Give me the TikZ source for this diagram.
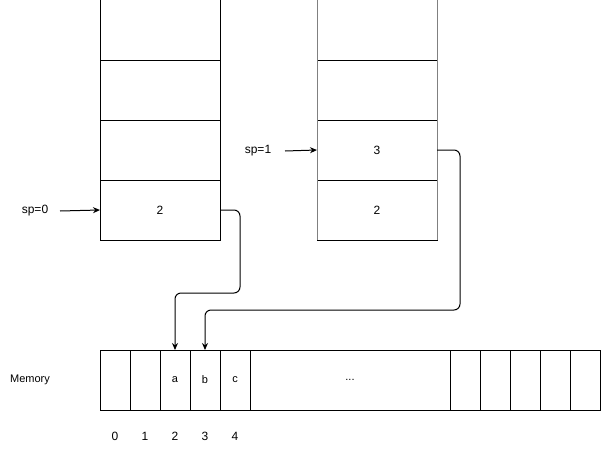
\documentclass[tikz,border=0pt]{standalone}
\usepackage{fontspec}
\setmainfont{Liberation Sans}
\usetikzlibrary{arrows.meta, positioning}

\begin{document}
\begin{tikzpicture}[x=1pt, y=-1pt, line width=1pt,
  every node/.style={font=\fontsize{12}{14}\selectfont},
  stackcell/.style={draw, minimum width=120pt, minimum height=60pt, inner sep=0pt, outer sep=0pt},
  memcell/.style={draw, minimum width=30pt, minimum height=60pt, inner sep=0pt, outer sep=0pt, font=\fontsize{11}{13}\selectfont},
  conn/.style={-{Stealth[length=7pt, width=6pt]}, rounded corners=6pt}]
  \useasboundingbox (0,0) rectangle (601,452);
  % left stack
  \node[stackcell] (l1) at (160,30) {};
  \node[stackcell, below=0pt of l1] (l2) {};
  \node[stackcell, below=0pt of l2] (l3) {};
  \node[stackcell, below=0pt of l3] (l4) {2};
  % right stack
  \node[stackcell] (r1) at (377,30) {};
  \node[stackcell, below=0pt of r1] (r2) {};
  \node[stackcell, below=0pt of r2] (r3) {3};
  \node[stackcell, below=0pt of r3] (r4) {2};
  \draw[gray] (r1.north west) -- (r4.south west);
  \draw[gray] (r1.north east) -- (r4.south east);
  % stack pointers
  \node (sp0) at (35,211) {sp=0};
  \node (sp1) at (258,151) {sp=1};
  \draw[conn] (60,211) -- (l4.west);
  \draw[conn] (285,151) -- (r3.west);
  % memory
  \node[font=\fontsize{11}{13}\selectfont] (memlabel) at (30,380) {Memory};
  \node[memcell] (m0) at (115,380) {};
  \node[memcell, right=0pt of m0] (m1) {};
  \node[memcell, right=0pt of m1] (m2) {a};
  \node[memcell, right=0pt of m2] (m3) {b};
  \node[memcell, right=0pt of m3] (m4) {c};
  \node[memcell, minimum width=200pt, right=0pt of m4] (mdots) {...};
  \node[memcell, right=0pt of mdots] (m5) {};
  \node[memcell, right=0pt of m5] (m6) {};
  \node[memcell, right=0pt of m6] (m7) {};
  \node[memcell, right=0pt of m7] (m8) {};
  \node[memcell, right=0pt of m8] (m9) {};
  % indices
  \foreach \i in {0,...,4}
    \node (idx\i) at (115+30*\i,436) {\i};
  % references into memory
  \draw[conn] (l4.east) -| (240,293) -| (m2.north);
  \draw[conn] (r3.east) -| (460,310) -| (m3.north);
\end{tikzpicture}
\end{document}
